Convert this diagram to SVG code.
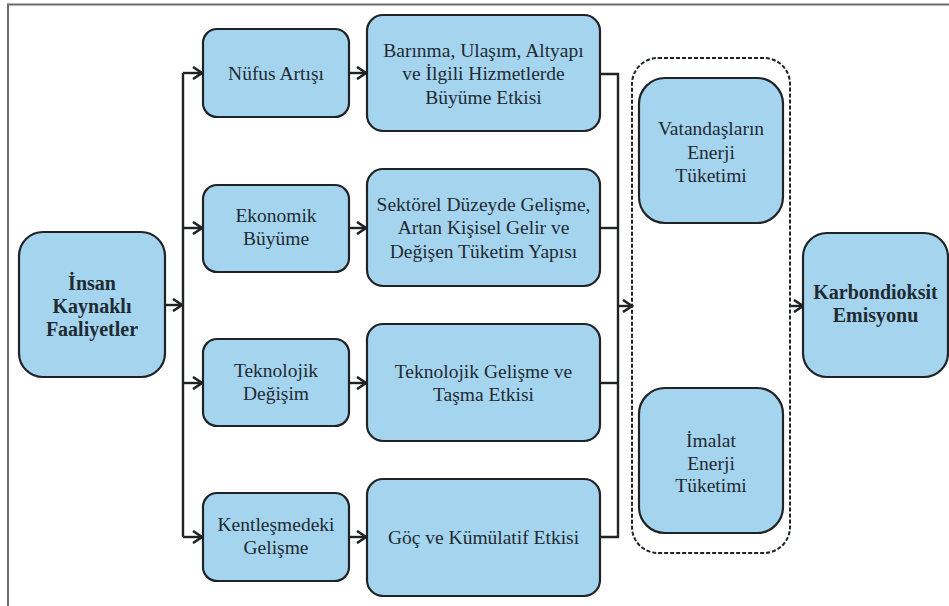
<svg xmlns="http://www.w3.org/2000/svg" width="949" height="606" viewBox="0 0 949 606">
<style>
.box{fill:#a5d5ee;stroke:#1f2326;stroke-width:2.2}
text{font-family:'Liberation Serif','Times New Roman',serif;font-size:19.5px;fill:#1f2a33;text-anchor:middle}
.b{font-weight:bold;font-size:20px}
.c{fill:none;stroke:#1f2326;stroke-width:2.4}
</style>
<defs>
<marker id="ah" markerWidth="14" markerHeight="14" refX="11" refY="7" orient="auto" markerUnits="userSpaceOnUse">
<path d="M2,1 L11,7 L2,13" fill="none" stroke="#1f2326" stroke-width="2.6"/>
</marker>
</defs>
<rect x="0" y="0" width="949" height="606" fill="#ffffff"/>
<path d="M8,606 V4.5 H949" fill="none" stroke="#6b6b6b" stroke-width="2"/>
<g id="connectors">
<path class="c" d="M165,305 H182" marker-end="url(#ah)"/>
<path class="c" d="M183,73 V537"/>
<path class="c" d="M183,73 H202" marker-end="url(#ah)"/>
<path class="c" d="M183,228 H202" marker-end="url(#ah)"/>
<path class="c" d="M183,383 H202" marker-end="url(#ah)"/>
<path class="c" d="M183,537 H202" marker-end="url(#ah)"/>
<path class="c" d="M349,73 H366" marker-end="url(#ah)"/>
<path class="c" d="M349,228 H366" marker-end="url(#ah)"/>
<path class="c" d="M349,383 H366" marker-end="url(#ah)"/>
<path class="c" d="M349,537 H366" marker-end="url(#ah)"/>
<path class="c" d="M600,74 H618 V537 H600"/>
<path class="c" d="M600,228 H618"/>
<path class="c" d="M600,383 H618"/>
<path class="c" d="M618,306 H632" marker-end="url(#ah)"/>
<path class="c" d="M790,306 H803" marker-end="url(#ah)"/>
</g>
<g id="group-energy">
<rect x="632" y="58" width="158" height="495" rx="26" fill="none" stroke="#1f2326" stroke-width="2" stroke-dasharray="4 2"/>
</g>
<g id="insan">
<rect class="box" x="19" y="232" width="146" height="145" rx="24"/>
<text class="b" x="92" y="290">İnsan</text>
<text class="b" x="92" y="313">Kaynaklı</text>
<text class="b" x="92" y="336">Faaliyetler</text>
</g>
<g id="nufus">
<rect class="box" x="203" y="29" width="146" height="88" rx="14"/>
<text x="276" y="80">Nüfus Artışı</text>
</g>
<g id="ekonomik">
<rect class="box" x="203" y="185" width="146" height="87" rx="14"/>
<text x="276" y="222">Ekonomik</text>
<text x="276" y="245">Büyüme</text>
</g>
<g id="teknolojik">
<rect class="box" x="203" y="339" width="146" height="87" rx="14"/>
<text x="276" y="377">Teknolojik</text>
<text x="276" y="400">Değişim</text>
</g>
<g id="kentlesme">
<rect class="box" x="203" y="493" width="146" height="88" rx="14"/>
<text x="276" y="531">Kentleşmedeki</text>
<text x="276" y="554">Gelişme</text>
</g>
<g id="barinma">
<rect class="box" x="367" y="15" width="233" height="116" rx="16"/>
<text x="483.5" y="57">Barınma, Ulaşım, Altyapı</text>
<text x="483.5" y="80">ve İlgili Hizmetlerde</text>
<text x="483.5" y="104">Büyüme Etkisi</text>
</g>
<g id="sektorel">
<rect class="box" x="367" y="169" width="233" height="117" rx="16"/>
<text x="483.5" y="211">Sektörel Düzeyde Gelişme,</text>
<text x="483.5" y="234">Artan Kişisel Gelir ve</text>
<text x="483.5" y="258">Değişen Tüketim Yapısı</text>
</g>
<g id="teknolojik-gelisme">
<rect class="box" x="367" y="324" width="233" height="117" rx="16"/>
<text x="483.5" y="378">Teknolojik Gelişme ve</text>
<text x="483.5" y="401">Taşma Etkisi</text>
</g>
<g id="goc">
<rect class="box" x="367" y="479" width="233" height="117" rx="16"/>
<text x="483.5" y="544">Göç ve Kümülatif Etkisi</text>
</g>
<g id="vatandas">
<rect class="box" x="639" y="78" width="144" height="145" rx="26"/>
<text x="711" y="135">Vatandaşların</text>
<text x="711" y="159">Enerji</text>
<text x="711" y="182">Tüketimi</text>
</g>
<g id="imalat">
<rect class="box" x="639" y="388" width="144" height="145" rx="26"/>
<text x="711" y="447">İmalat</text>
<text x="711" y="470">Enerji</text>
<text x="711" y="492">Tüketimi</text>
</g>
<g id="karbondioksit">
<rect class="box" x="803" y="233" width="145" height="144" rx="24"/>
<text class="b" x="875.5" y="299">Karbondioksit</text>
<text class="b" x="875.5" y="322">Emisyonu</text>
</g>
</svg>
